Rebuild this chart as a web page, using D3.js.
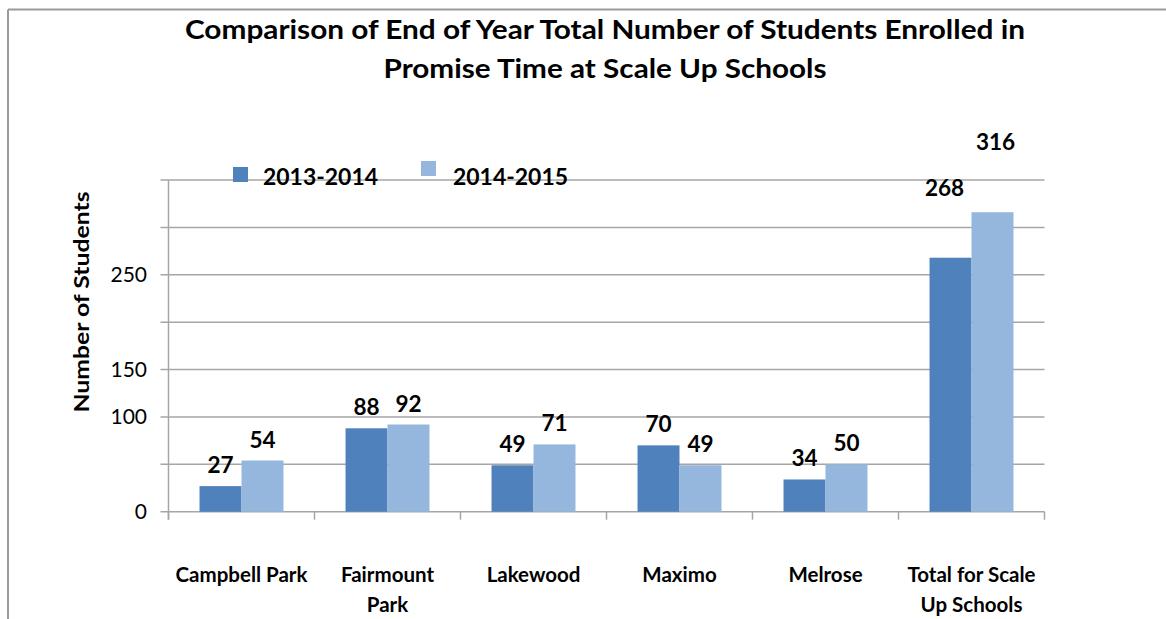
<!DOCTYPE html>
<html>
<head>
<meta charset="utf-8">
<script src="https://cdn.jsdelivr.net/npm/d3@7"></script>
<style>
  body { margin: 0; background: #fff; }
  svg { display: block; font-family: Lato, 'Open Sans', sans-serif; }
</style>
</head>
<body>
<svg id="chart" width="1166" height="619"></svg>
<script>
// data
const categories = ['Campbell Park', 'Fairmount Park', 'Lakewood', 'Maximo', 'Melrose', 'Total for Scale Up Schools']
const categoryLines = [['Campbell Park'], ['Fairmount', 'Park'], ['Lakewood'], ['Maximo'], ['Melrose'], ['Total for Scale', 'Up Schools']]
const seriesNames = ['2013-2014', '2014-2015']
const values2013 = [27, 88, 49, 70, 34, 268]
const values2014 = [54, 92, 71, 49, 50, 316]
const yTicks = [0, 50, 100, 150, 200, 250, 300, 350]
const yTickLabels = ['0', '', '100', '150', '', '250', '', '']
const colors = ['#4F81BD', '#95B7DE']

const svg = d3.select('#chart')
const plot = { left: 168.5, right: 1044.5, top: 180, bottom: 511.7 }

const x = d3.scaleBand()
  .domain(categories)
  .range([plot.left, plot.right])
  .paddingInner(0.425)
  .paddingOuter(0.2125)
const xSub = d3.scaleBand().domain(seriesNames).range([0, x.bandwidth()])
const y = d3.scaleLinear().domain([0, 350]).range([plot.bottom, plot.top])

// outer frame (top + left edges only show)
svg.append('line').attr('x1', 8).attr('x2', 1166).attr('y1', 9.5).attr('y2', 9.5)
  .attr('stroke', '#9a9a9a').attr('stroke-width', 2)
svg.append('line').attr('x1', 8).attr('x2', 8).attr('y1', 9.5).attr('y2', 619)
  .attr('stroke', '#9a9a9a').attr('stroke-width', 2)

// title
const title = ['Comparison of End of Year Total Number of Students Enrolled in', 'Promise Time at Scale Up Schools']
const titleWidths = [840, 443]
svg.selectAll('.title').data(title).enter().append('text')
  .attr('class', 'title')
  .attr('x', 605)
  .attr('y', (d, i) => 39 + i * 39)
  .attr('text-anchor', 'middle')
  .attr('font-size', 27)
  .attr('font-weight', 700)
  .attr('textLength', (d, i) => titleWidths[i])
  .attr('lengthAdjust', 'spacingAndGlyphs')
  .text(d => d)

// gridlines
svg.append('g').selectAll('line').data(yTicks).enter().append('line')
  .attr('x1', plot.left - 8).attr('x2', plot.right)
  .attr('y1', d => y(d)).attr('y2', d => y(d))
  .attr('stroke', '#a6a6a6').attr('stroke-width', 1.5)

// y axis
svg.append('line').attr('x1', plot.left).attr('x2', plot.left)
  .attr('y1', plot.top).attr('y2', plot.bottom + 8)
  .attr('stroke', '#a6a6a6').attr('stroke-width', 1.5)
svg.append('g').selectAll('text').data(yTicks).enter().append('text')
  .attr('x', 147)
  .attr('y', d => y(d))
  .attr('dy', '0.36em')
  .attr('text-anchor', 'end')
  .attr('font-size', 21)
  .text((d, i) => yTickLabels[i])

svg.append('text')
  .attr('transform', `translate(89, 302) rotate(-90)`)
  .attr('text-anchor', 'middle')
  .attr('font-size', 21)
  .attr('font-weight', 700)
  .attr('textLength', 221)
  .attr('lengthAdjust', 'spacingAndGlyphs')
  .text('Number of Students')

// x axis ticks at band boundaries
const boundaries = categories.map(c => x(c) - x.step() * x.paddingInner() / 2)
boundaries.push(plot.right)
svg.append('g').selectAll('line').data(boundaries).enter().append('line')
  .attr('x1', d => d).attr('x2', d => d)
  .attr('y1', plot.bottom).attr('y2', plot.bottom + 8)
  .attr('stroke', '#a6a6a6').attr('stroke-width', 1.5)

// bars
const series = [values2013, values2014]
const groups = svg.append('g').selectAll('g').data(series).enter().append('g')
  .attr('fill', (d, i) => colors[i])
groups.each(function (vals, si) {
  d3.select(this).selectAll('rect').data(vals).enter().append('rect')
    .attr('x', (d, i) => x(categories[i]) + xSub(seriesNames[si]))
    .attr('width', xSub.bandwidth())
    .attr('y', d => y(d))
    .attr('height', d => y(0) - y(d))
})

// data labels; the total's labels were dragged higher in the original
const liftedCategory = 'Total for Scale Up Schools'
series.forEach((vals, si) => {
  svg.append('g').selectAll('text').data(vals).enter().append('text')
    .attr('x', (d, i) => x(categories[i]) + xSub(seriesNames[si]) + xSub.bandwidth() / 2 + (categories[i] === liftedCategory ? (si === 0 ? -6 : 3) : 0))
    .attr('y', (d, i) => y(d) - 13 - (categories[i] === liftedCategory ? 49 : 0))
    .attr('text-anchor', 'middle')
    .attr('font-size', 22.5)
    .attr('font-weight', 700)
    .text(d => d)
})

// category labels
const catLabels = svg.append('g').selectAll('text').data(categoryLines).enter().append('text')
  .attr('text-anchor', 'middle')
  .attr('font-size', 20.5)
  .attr('font-weight', 700)
catLabels.each(function (lines, i) {
  d3.select(this).selectAll('tspan').data(lines).enter().append('tspan')
    .attr('x', x(categories[i]) + x.bandwidth() / 2)
    .attr('y', (d, j) => 582 + j * 30)
    .text(d => d)
})

// legend
const legendPos = [{ sx: 233, sy: 167, tx: 263 }, { sx: 421, sy: 161, tx: 453 }]
seriesNames.forEach((name, i) => {
  const p = legendPos[i]
  svg.append('rect').attr('x', p.sx).attr('y', p.sy).attr('width', 15).attr('height', 15)
    .attr('fill', colors[i])
  svg.append('text').attr('x', p.tx).attr('y', 185)
    .attr('font-size', 23).attr('font-weight', 700)
    .attr('textLength', 115).attr('lengthAdjust', 'spacingAndGlyphs')
    .text(name)
})
</script>
</body>
</html>
